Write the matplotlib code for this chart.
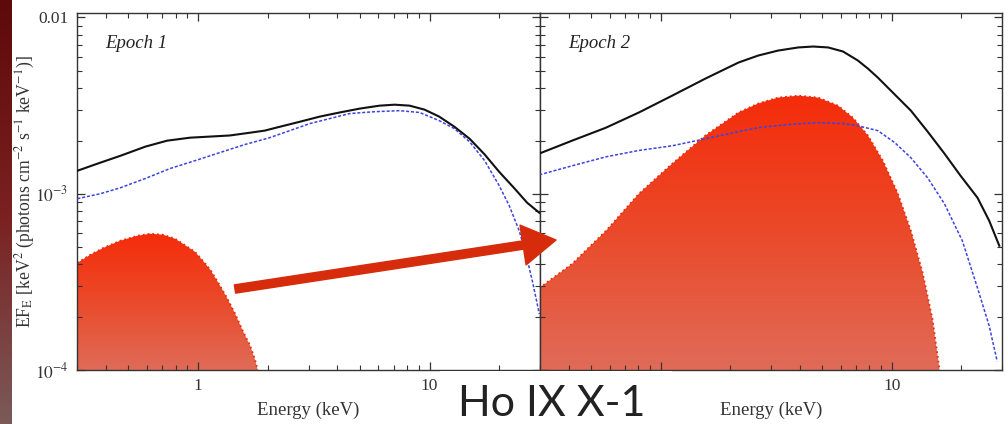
import matplotlib
matplotlib.use("Agg")
import matplotlib.pyplot as plt
import numpy as np
from matplotlib.colors import LinearSegmentedColormap
from matplotlib.patches import Polygon, Rectangle, FancyArrowPatch

plt.rcParams['font.family'] = ['Liberation Serif', 'DejaVu Serif']
plt.rcParams['mathtext.fontset'] = 'stix'

# Epoch 1 model components (energy in keV, EF_E)
e1_total = [0.301, 0.378, 0.461, 0.592, 0.735, 0.925, 1.13, 1.37, 1.68, 1.94, 2.26, 2.75,
            3.36, 4.09, 4.99, 6.09, 7.06, 8.20, 9.51, 11.0, 12.8, 14.9, 17.3, 20.0, 23.3,
            26.4, 29.8]
f1_total = [0.00135, 0.00150, 0.00164, 0.00185, 0.00200, 0.00208, 0.00211, 0.00214, 0.00222,
            0.00228, 0.00240, 0.00256, 0.00274, 0.00289, 0.00304, 0.00316, 0.00320, 0.00316,
            0.00300, 0.00274, 0.00240, 0.00205, 0.00167, 0.00133, 0.00107, 0.000889, 0.000780]

e1_disk = [0.301, 0.378, 0.461, 0.592, 0.757, 0.970, 1.24, 1.59, 2.04, 2.49, 3.04, 3.71,
           4.52, 5.79, 7.43, 9.06, 11.0, 12.8, 14.9, 17.3, 20.0, 22.1, 24.4, 26.2, 27.8, 29.8]
f1_disk = [0.000937, 0.00100, 0.00108, 0.00122, 0.00139, 0.00154, 0.00171, 0.00190, 0.00208,
           0.00228, 0.00250, 0.00267, 0.00285, 0.00292, 0.00296, 0.00289, 0.00260, 0.00234,
           0.00197, 0.00154, 0.00111, 0.000855, 0.000616, 0.000444, 0.000320, 0.000208]

e1_soft = [0.301, 0.342, 0.390, 0.461, 0.546, 0.621, 0.707, 0.796, 0.861, 0.970, 1.05,
           1.13, 1.21, 1.32, 1.44, 1.56, 1.68, 1.76, 1.81]
f1_soft = [0.000405, 0.000450, 0.000493, 0.000541, 0.000577, 0.000593, 0.000585, 0.000555,
           0.000520, 0.000468, 0.000416, 0.000370, 0.000320, 0.000263, 0.000211, 0.000167,
           0.000137, 0.000115, 0.000100]

# Epoch 2 model components
e2_total = [0.298, 0.413, 0.579, 0.804, 1.12, 1.56, 2.17, 2.64, 3.22, 3.94, 4.57, 5.30,
            6.15, 7.13, 7.88, 8.70, 10.1, 12.1, 14.3, 16.9, 19.8, 23.5, 26.4, 29.2]
f2_total = [0.00169, 0.00200, 0.00237, 0.00289, 0.00360, 0.00450, 0.00555, 0.00608, 0.00649,
            0.00676, 0.00684, 0.00676, 0.00641, 0.00570, 0.00513, 0.00456, 0.00375, 0.00296,
            0.00225, 0.00169, 0.00127, 0.000949, 0.000703, 0.000507]

e2_disk = [0.298, 0.413, 0.579, 0.804, 1.12, 1.56, 2.17, 2.64, 3.56, 4.80, 6.15, 7.13,
           8.70, 10.3, 12.1, 14.3, 16.9, 20.2, 23.5, 26.4, 28.6]
f2_disk = [0.00128, 0.00144, 0.00162, 0.00176, 0.00187, 0.00205, 0.00225, 0.00237, 0.00247,
           0.00253, 0.00250, 0.00243, 0.00228, 0.00195, 0.00160, 0.00123, 0.000877, 0.000541,
           0.000292, 0.000178, 0.000112]

e2_soft = [0.298, 0.413, 0.579, 0.804, 1.12, 1.56, 2.17, 2.64, 3.22, 3.94, 4.80, 5.85,
           6.79, 7.88, 9.15, 10.6, 12.1, 13.6, 15.0, 16.1]
f2_soft = [0.000292, 0.000400, 0.000616, 0.00100, 0.00148, 0.00214, 0.00289, 0.00325, 0.00351,
           0.00360, 0.00351, 0.00316, 0.00270, 0.00214, 0.00154, 0.00101, 0.000616, 0.000356,
           0.000195, 0.000100]

xlim = (0.3, 30)
ylim = (1e-4, 0.0106)
W, H = 1008, 424

fig = plt.figure(figsize=(W / 100, H / 100), dpi=100)
ax1 = fig.add_axes([77 / W, 54 / H, 463 / W, 357 / H])
ax2 = fig.add_axes([540 / W, 54 / H, 462 / W, 357 / H])

red_cmap = LinearSegmentedColormap.from_list('soft', ['#e06b58', '#ea4a2a', '#f52c0a'])
grad = np.linspace(0, 1, 256).reshape(-1, 1)


def soft_component(ax, e, f):
    # gradient-filled bump, clipped to the area under the curve
    top = (np.log10(max(f)) - np.log10(ylim[0])) / (np.log10(ylim[1]) - np.log10(ylim[0]))
    verts = list(zip(e, f)) + [(e[-1], 1e-5), (e[0], 1e-5)]
    poly = Polygon(verts, closed=True, facecolor='none', edgecolor='none')
    ax.add_patch(poly)
    im = ax.imshow(grad, extent=[0, 1, 0, top], transform=ax.transAxes, origin='lower',
                   aspect='auto', cmap=red_cmap, zorder=1)
    im.set_clip_path(poly)
    ax.plot(e, f, color='#ec2c0c', ls=':', lw=1.3, zorder=2)


for ax, et, ft, ed, fd, es, fs, name in [
        (ax1, e1_total, f1_total, e1_disk, f1_disk, e1_soft, f1_soft, 'Epoch 1'),
        (ax2, e2_total, f2_total, e2_disk, f2_disk, e2_soft, f2_soft, 'Epoch 2')]:
    ax.set_xscale('log')
    ax.set_yscale('log')
    soft_component(ax, es, fs)
    ax.plot(ed, fd, color='#3a44e0', ls=(0, (2, 1.2)), lw=1.1, zorder=3)
    ax.plot(et, ft, color='#111111', lw=1.5, zorder=4)
    ax.set_xlim(*xlim)
    ax.set_ylim(*ylim)
    ax.set_xticks([1, 10])
    ax.set_xticklabels(['1', '10'])
    ax.tick_params(which='both', direction='in', top=True, right=True,
                   colors='#333333', labelsize=12.5, pad=6)
    ax.tick_params(which='major', length=6, width=0.9)
    ax.tick_params(which='minor', length=3.5, width=0.8)
    for s in ax.spines.values():
        s.set_color('#333333')
        s.set_linewidth(1.0)
    ax.set_xlabel('Energy (keV)', fontsize=13.5, color='#333333', labelpad=5)
    ax.text(0.060, 0.915, name, transform=ax.transAxes, fontsize=13.5,
            style='italic', color='#222222', va='center')

ax1.set_yticks([1e-4, 1e-3, 1e-2])
ax1.set_yticklabels([r'$10^{-4}$', r'$10^{-3}$', '0.01'])
ax2.tick_params(labelleft=False)

fig.text(25 / W, 1 - 192 / H,
         r'EF$_{\rm E}$ [keV$^2$ (photons cm$^{-2}$ s$^{-1}$ keV$^{-1}$)]',
         rotation=90, ha='center', va='center', fontsize=12.7, color='#333333')

# arrow from epoch 1 soft component towards epoch 2
arrow = FancyArrowPatch(posA=(235 / W, 1 - 289 / H), posB=(556 / W, 1 - 240 / H),
                        transform=fig.transFigure, shrinkA=0, shrinkB=0,
                        arrowstyle='simple,head_length=2.4,head_width=2.9,tail_width=0.6',
                        mutation_scale=10, color='#d62c0c', zorder=10)
fig.add_artist(arrow)

# title plate
fig.add_artist(Rectangle((440 / W, 0), 232 / W, 53 / H, transform=fig.transFigure,
                         facecolor='white', edgecolor='none', zorder=8))
fig.text(552 / W, 0.002, 'Ho IX X-1', ha='center', va='bottom', fontsize=31,
         family=['Lato', 'DejaVu Sans'], weight='normal', color='#222222', zorder=9)

# dark red edge strip
edge = fig.add_axes([0, 0, 12 / W, 1])
edge_cmap = LinearSegmentedColormap.from_list('edge', ['#7a5a58', '#7a2020', '#5e0a0a'])
edge.imshow(grad, extent=[0, 1, 0, 1], origin='lower', aspect='auto', cmap=edge_cmap)
edge.set_axis_off()

fig.savefig('out.png', dpi=100)
